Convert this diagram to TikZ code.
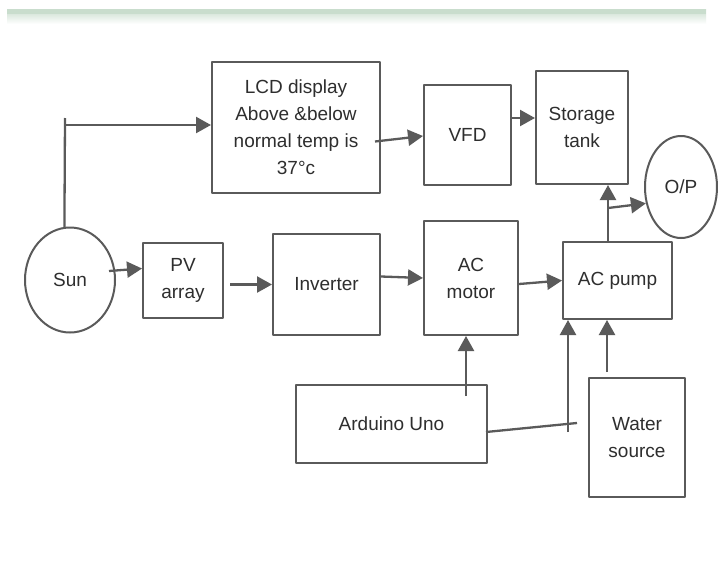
\documentclass[tikz,border=0pt]{standalone}
\usepackage{fontspec}
\setmainfont{Liberation Sans}
\usepackage{xcolor}
\usetikzlibrary{arrows.meta,calc,shapes.geometric}

\definecolor{lncol}{HTML}{5A5A5A}
\definecolor{txtcol}{HTML}{2E2E2E}
\definecolor{bandcol}{HTML}{C9DDCD}

\begin{document}
\begin{tikzpicture}[x=1pt, y=-1pt, >={Triangle[length=15pt,width=16pt]}, line join=round,
  blk/.style={draw=lncol, line width=2pt, text=txtcol, align=center, inner sep=0pt,
    font=\fontsize{19}{27}\selectfont},
  rnd/.style={blk, ellipse},
  wire/.style={draw=lncol, line width=2.3pt},
  arr/.style={wire, ->}]
  \useasboundingbox (0,0) rectangle (718,565);
  \fill[white] (0,0) rectangle (718,565);
  \shade[top color=bandcol, bottom color=white] (7,9) rectangle (706,24);
  \fill[bandcol] (7,9) rectangle (706,14);
  \node[rnd, minimum width=90pt, minimum height=105pt] (sun) at (70,280) {Sun};
  \node[blk, minimum width=80pt, minimum height=75pt] (pv) at (183,280.5) {PV\\array};
  \node[blk, minimum width=168pt, minimum height=131pt] (lcd) at (296,127.5) {LCD display\\Above \&below\\normal temp is\\37°c};
  \node[blk, minimum width=107pt, minimum height=101pt] (inv) at (326.5,284.5) {Inverter};
  \node[blk, minimum width=87pt, minimum height=100pt] (vfd) at (467.5,135) {VFD};
  \node[blk, minimum width=92pt, minimum height=113pt] (tank) at (582,127.5) {Storage\\tank};
  \node[blk, minimum width=94pt, minimum height=114pt] (motor) at (471,278) {AC\\motor};
  \node[blk, minimum width=109pt, minimum height=77pt] (pump) at (617.5,280.5) {AC pump};
  \node[rnd, minimum width=72pt, minimum height=102pt] (op) at (681,187) {O/P};
  \node[blk, minimum width=191pt, minimum height=78pt] (ard) at (391.5,424) {Arduino Uno};
  \node[blk, minimum width=96pt, minimum height=119pt] (water) at (637,437.5) {Water\\source};
  \coordinate (s1) at (65,118);
  \coordinate (s2) at (65,125);
  \coordinate (t1) at (608,208);
  \coordinate (a1) at (577,423);
  \coordinate (a2) at (568,432);
  \draw[wire] (sun.96) -- (s1);
  \draw[arr] (s2) -- (s2 -| lcd.west);
  \draw[arr] ($(sun.east)+(-7,-9)$) -- ($(pv.west)+(0,-12)$);
  \draw[arr] ($(pv.east |- inv.west)+(6,0)$) -- (inv.west);
  \draw[arr] ($(inv.east)+(0,-8)$) -- (motor.west);
  \draw[arr] ($(motor.east)+(0,6)$) -- (pump.west);
  \draw[arr] ($(lcd.east)+(-6,14)$) -- ($(vfd.west)+(0,1)$);
  \draw[arr] ($(vfd.east)+(0,-17)$) -- ($(tank.west)+(0,-9.5)$);
  \draw[arr] ($(pump.north)+(-9.5,0)$) -- ($(tank.south)+(26,0)$);
  \draw[arr] (t1) -- (op.205);
  \draw[arr] ($(ard.north)+(74.5,12)$) -- ($(motor.south)+(-5,0)$);
  \draw[wire] ($(ard.east)+(-2,8)$) -- (a1);
  \draw[arr] (a2) -- (a2 |- pump.south);
  \draw[arr] ($(water.north)+(-30,-5)$) -- ($(pump.south)+(-10.5,0)$);
\end{tikzpicture}
\end{document}
